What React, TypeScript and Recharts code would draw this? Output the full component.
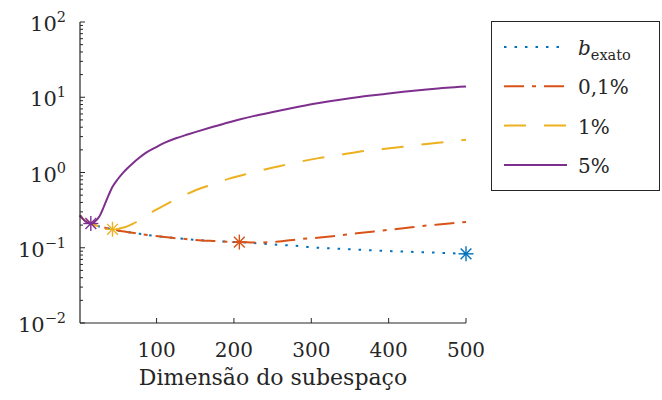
import { ComposedChart, Line, Scatter, XAxis, YAxis, Legend } from 'recharts';

// dimensão do subespaço (eixo x)
const dims = [1, 5, 10, 15, 20, 26, 32, 38, 43, 50, 56, 62, 69, 78, 86, 99, 110, 125, 140, 151, 173, 194, 207, 229, 255, 285, 308, 337, 362, 393, 419, 449, 475, 500];

// erro relativo para cada nível de ruído
const exato = [0.27, 0.24, 0.22, 0.21, 0.2, 0.192, 0.186, 0.18, 0.176, 0.17, 0.166, 0.162, 0.158, 0.153, 0.149, 0.143, 0.139, 0.134, 0.13, 0.127, 0.123, 0.12, 0.119, 0.115, 0.11, 0.105, 0.1, 0.097, 0.094, 0.091, 0.089, 0.087, 0.085, 0.083];
const ruido01 = [0.27, 0.24, 0.22, 0.21, 0.2, 0.192, 0.186, 0.18, 0.176, 0.17, 0.166, 0.162, 0.158, 0.153, 0.149, 0.143, 0.139, 0.134, 0.13, 0.127, 0.123, 0.12, 0.119, 0.117, 0.12, 0.13, 0.136, 0.146, 0.157, 0.17, 0.182, 0.197, 0.208, 0.22];
const ruido1 = [0.27, 0.24, 0.22, 0.21, 0.2, 0.192, 0.186, 0.18, 0.176, 0.178, 0.184, 0.192, 0.207, 0.234, 0.265, 0.318, 0.365, 0.44, 0.52, 0.585, 0.7, 0.83, 0.9, 1.03, 1.19, 1.39, 1.54, 1.71, 1.89, 2.05, 2.2, 2.39, 2.55, 2.72];
const ruido5 = [0.27, 0.24, 0.218, 0.21, 0.222, 0.26, 0.355, 0.5, 0.645, 0.82, 0.975, 1.13, 1.32, 1.58, 1.82, 2.16, 2.47, 2.85, 3.2, 3.47, 4.05, 4.66, 5.05, 5.73, 6.53, 7.52, 8.32, 9.29, 10.1, 11.0, 11.8, 12.7, 13.4, 13.9];

// ponto de erro mínimo (asteriscos), na ordem das séries
const melhorDim = [500, 207, 43, 15];
const melhorErro = [0.083, 0.119, 0.176, 0.21];

const xTicks = [100, 200, 300, 400, 500];
const yDecadas = [0.01, 0.1, 1, 10, 100];
const yMenores = [2, 3, 4, 5, 6, 7, 8, 9];

const AXIS = '#262626';
const FONT = "'DejaVu Serif', serif";

const series = [
  { key: 'exato', name: 'b_exato', values: exato, color: '#0072BD', dash: '2.5 8' },
  { key: 'r01', name: '0,1%', values: ruido01, color: '#D95319', dash: '20 8 4 8' },
  { key: 'r1', name: '1%', values: ruido1, color: '#EDB120', dash: '22 18' },
  { key: 'r5', name: '5%', values: ruido5, color: '#7E2F8E', dash: undefined },
];

const chartData = dims.map((d, i) => {
  const row: Record<string, number> = { dim: d };
  series.forEach(s => { row[s.key] = s.values[i]; });
  return row;
});

// ticks maiores + menores do eixo log
const yTicks = yDecadas.flatMap((d, i) =>
  i < yDecadas.length - 1 ? [d, ...yMenores.map(m => +(d * m).toPrecision(3))] : [d]
);

const isDecada = (v: number) => Math.abs(Math.log10(v) - Math.round(Math.log10(v))) < 1e-6;

const LeftTick = ({ x, y, payload }: any) => {
  const v = payload.value;
  const major = isDecada(v);
  const exp = Math.round(Math.log10(v));
  return (
    <g>
      <line x1={x} y1={y} x2={x + (major ? 5 : 3)} y2={y} stroke={AXIS} strokeWidth={1} />
      {major && (
        <text x={x - 14} y={y + 9} textAnchor="end" style={{ fontFamily: FONT }} fontSize={21} fill={AXIS}>
          10<tspan dy={-9} fontSize={14.5}>{exp < 0 ? '\u2212' + -exp : exp}</tspan>
        </text>
      )}
    </g>
  );
};

const RightTick = ({ x, y, payload }: any) => {
  const major = isDecada(payload.value);
  return <line x1={x} y1={y} x2={x - (major ? 5 : 3)} y2={y} stroke={AXIS} strokeWidth={1} />;
};

const BottomTick = ({ x, y, payload }: any) => (
  <g>
    <line x1={x} y1={y} x2={x} y2={y - 5} stroke={AXIS} strokeWidth={1} />
    <text x={x} y={y + 34} textAnchor="middle" style={{ fontFamily: FONT }} fontSize={20} fill={AXIS}>
      {payload.value}
    </text>
  </g>
);

const TopTick = ({ x, y }: any) => (
  <line x1={x} y1={y} x2={x} y2={y + 5} stroke={AXIS} strokeWidth={1} />
);

const asterisco = (color: string) => (props: any) => {
  const { cx, cy } = props;
  const r = 7.5;
  const d = r * 0.72;
  return (
    <g stroke={color} strokeWidth={1.4}>
      <line x1={cx - r} y1={cy} x2={cx + r} y2={cy} />
      <line x1={cx} y1={cy - r} x2={cx} y2={cy + r} />
      <line x1={cx - d} y1={cy - d} x2={cx + d} y2={cy + d} />
      <line x1={cx - d} y1={cy + d} x2={cx + d} y2={cy - d} />
    </g>
  );
};

const renderLegend = () => (
  <svg width={170} height={171} style={{ display: 'block' }}>
    <rect x={0.5} y={0.5} width={168} height={169} fill="#fff" stroke={AXIS} strokeWidth={1} />
    {series.map((s, i) => {
      const cy = 26 + i * 39.3;
      return (
        <g key={s.key}>
          <line x1={13} y1={cy} x2={76} y2={cy} stroke={s.color} strokeWidth={2} strokeDasharray={s.dash} />
          <text x={87} y={cy + 8} style={{ fontFamily: FONT }} fontSize={20} fill={AXIS}>
            {s.key === 'exato' ? (
              <>
                <tspan fontStyle="italic">b</tspan>
                <tspan fontSize={14.5} dy={5}>exato</tspan>
              </>
            ) : (
              s.name
            )}
          </text>
        </g>
      );
    })}
  </svg>
);

export default function App() {
  return (
    <div style={{ position: 'absolute', left: 0, top: 0, width: 662, height: 400, background: '#fff' }}>
      <ComposedChart
        width={662}
        height={400}
        data={chartData}
        margin={{ top: 22, right: 196, bottom: 0, left: 0 }}
      >
        <XAxis
          xAxisId="bottom"
          dataKey="dim"
          type="number"
          domain={[1, 500]}
          ticks={xTicks}
          interval={0}
          height={77}
          tickSize={0}
          tickMargin={0}
          tick={<BottomTick />}
          axisLine={{ stroke: AXIS, strokeWidth: 1.2 }}
          tickLine={false}
          label={{
            content: ({ viewBox }: any) => (
              <text
                x={viewBox.x + viewBox.width / 2}
                y={viewBox.y + 62}
                textAnchor="middle"
                style={{ fontFamily: FONT }}
                fontSize={22}
                fill={AXIS}
              >
                Dimensão do subespaço
              </text>
            ),
          }}
        />
        <XAxis
          xAxisId="top"
          orientation="top"
          dataKey="dim"
          type="number"
          domain={[1, 500]}
          ticks={xTicks}
          interval={0}
          height={0}
          tickSize={0}
          tickMargin={0}
          tick={<TopTick />}
          axisLine={{ stroke: AXIS, strokeWidth: 1.2 }}
          tickLine={false}
        />
        <YAxis
          yAxisId="left"
          scale="log"
          type="number"
          domain={[0.01, 100]}
          ticks={yTicks}
          interval={0}
          width={80}
          tickSize={0}
          tickMargin={0}
          tick={<LeftTick />}
          axisLine={{ stroke: AXIS, strokeWidth: 1.2 }}
          tickLine={false}
        />
        <YAxis
          yAxisId="right"
          orientation="right"
          scale="log"
          type="number"
          domain={[0.01, 100]}
          ticks={yTicks}
          interval={0}
          width={0}
          tickSize={0}
          tickMargin={0}
          tick={<RightTick />}
          axisLine={{ stroke: AXIS, strokeWidth: 1.2 }}
          tickLine={false}
        />
        {series.map(s => (
          <Line
            key={s.key}
            xAxisId="bottom"
            yAxisId="left"
            dataKey={s.key}
            name={s.name}
            type="monotone"
            stroke={s.color}
            strokeWidth={2}
            strokeDasharray={s.dash}
            dot={false}
            activeDot={false}
            isAnimationActive={false}
          />
        ))}
        {series.map((s, i) => (
          <Scatter
            key={'m' + s.key}
            xAxisId="bottom"
            yAxisId="left"
            data={[{ dim: melhorDim[i], erro: melhorErro[i] }]}
            dataKey="erro"
            fill={s.color}
            shape={asterisco(s.color)}
            legendType="none"
            isAnimationActive={false}
          />
        ))}
        <Legend
          layout="horizontal"
          align="center"
          verticalAlign="middle"
          content={renderLegend}
          wrapperStyle={{ left: 491, top: 21, width: 170, height: 171 }}
        />
      </ComposedChart>
    </div>
  );
}
